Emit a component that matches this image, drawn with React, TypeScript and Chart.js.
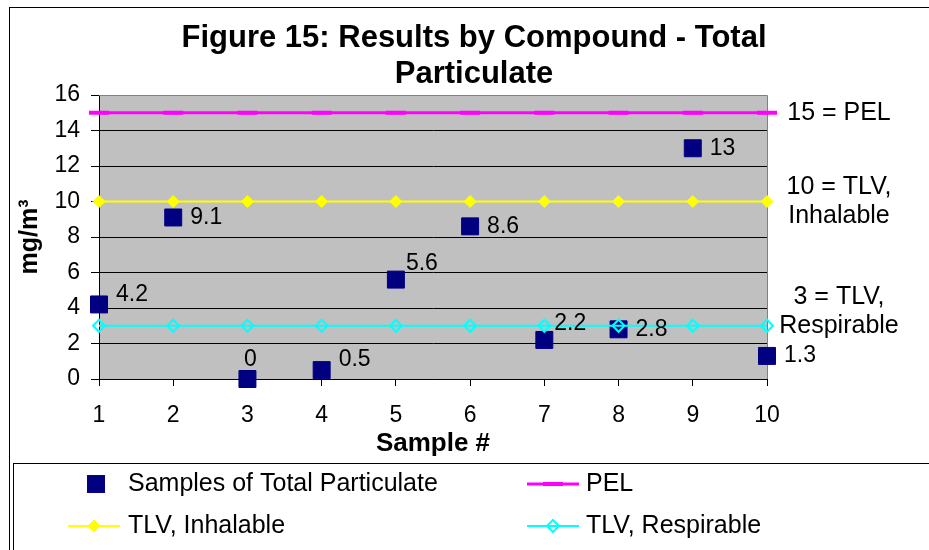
import React, { useEffect, useRef } from 'react';
import { Chart, registerables } from 'chart.js';

Chart.register(...registerables);

// ---------- data ----------
const sampleNumbers = [1, 2, 3, 4, 5, 6, 7, 8, 9, 10];
const sampleValues = [4.2, 9.1, 0, 0.5, 5.6, 8.6, 2.2, 2.8, 13, 1.3];
const pelValue = 15;
const tlvInhalableValue = 10;
const tlvRespirableValue = 3;

const seriesLabels = ['Samples of Total Particulate', 'PEL', 'TLV, Inhalable', 'TLV, Respirable'];
const titleLines = ['Figure 15: Results by Compound - Total', 'Particulate'];
const xTitle = 'Sample #';
const yTitle = 'mg/m³';
const yMin = 0;
const yMax = 16;
const yStep = 2;
const xMin = 1;
const xMax = 10;

const noteLevels = [15, 10, 3];
const noteLines = [['15 = PEL'], ['10 = TLV,', 'Inhalable'], ['3 = TLV,', 'Respirable']];
const noteAnchors = ['middle', 'middle', 'bottom'];

const labelPlacement = ['rightHigh', 'right', 'above', 'rightHigh', 'upperRight', 'right', 'upperRight', 'right', 'right', 'right'];

// ---------- styles ----------
const FONT = '"Liberation Sans", Arial, Helvetica, sans-serif';
const NAVY = '#000080';
const MAGENTA = '#FF00FF';
const YELLOW = '#FFFF00';
const CYAN = '#00FFFF';
const PLOT_BG = '#C0C0C0';

function drawMarker(ctx: CanvasRenderingContext2D, style: string, x: number, y: number, r: number, fill: string, stroke: string, bw: number) {
  ctx.save();
  if (style === 'rect') {
    const s = Math.SQRT1_2 * r;
    ctx.fillStyle = fill;
    ctx.fillRect(x - s - 0.5, y - s - 0.5, 2 * s + 1, 2 * s + 1);
  } else if (style === 'rectRot') {
    ctx.beginPath();
    ctx.moveTo(x - r, y);
    ctx.lineTo(x, y - r);
    ctx.lineTo(x + r, y);
    ctx.lineTo(x, y + r);
    ctx.closePath();
    if (fill && fill !== 'transparent') {
      ctx.fillStyle = fill;
      ctx.fill();
    }
    ctx.strokeStyle = stroke;
    ctx.lineWidth = bw;
    ctx.stroke();
  } else if (style === 'line') {
    ctx.beginPath();
    ctx.moveTo(x - r, y);
    ctx.lineTo(x + r, y);
    ctx.strokeStyle = stroke;
    ctx.lineWidth = bw;
    ctx.stroke();
  }
  ctx.restore();
}

const decorPlugin = {
  id: 'decor',
  beforeDraw(chart: any) {
    const { ctx, chartArea: a } = chart;
    ctx.save();
    ctx.fillStyle = '#ffffff';
    ctx.fillRect(0, 0, chart.width, chart.height);
    ctx.strokeStyle = '#000';
    ctx.lineWidth = 1;
    ctx.strokeRect(9.5, 7.5, chart.width + 20, chart.height + 20);
    ctx.fillStyle = PLOT_BG;
    ctx.fillRect(a.left, a.top, a.right - a.left, a.bottom - a.top);
    ctx.restore();
  },
  beforeDatasetsDraw(chart: any) {
    const { ctx, chartArea: a } = chart;
    ctx.save();
    ctx.strokeStyle = '#808080';
    ctx.lineWidth = 1;
    const top = Math.round(a.top) + 0.5;
    const right = Math.round(a.right) + 0.5;
    ctx.beginPath();
    ctx.moveTo(a.left, top);
    ctx.lineTo(right, top);
    ctx.lineTo(right, a.bottom);
    ctx.stroke();
    ctx.restore();
  },
  afterDatasetsDraw(chart: any) {
    const { ctx } = chart;
    const meta = chart.getDatasetMeta(0);
    ctx.save();
    ctx.font = `23px ${FONT}`;
    ctx.fillStyle = '#000';
    ctx.textBaseline = 'middle';
    meta.data.forEach((pt: any, i: number) => {
      const txt = String(sampleValues[i]);
      const p = labelPlacement[i];
      let x = pt.x + 17;
      let y = pt.y;
      ctx.textAlign = 'left';
      if (p === 'rightHigh') { y = pt.y - 10; }
      else if (p === 'upperRight') { x = pt.x + 10; y = pt.y - 16; }
      else if (p === 'above') { ctx.textAlign = 'center'; x = pt.x + 3; y = pt.y - 19; }
      ctx.fillText(txt, x, y);
    });
    ctx.restore();
  },
  afterDraw(chart: any) {
    const { ctx, chartArea: a } = chart;
    const yScale = chart.scales.y;
    ctx.save();
    // title
    ctx.fillStyle = '#000';
    ctx.font = `bold 31px ${FONT}`;
    ctx.textAlign = 'center';
    ctx.textBaseline = 'middle';
    titleLines.forEach((t, i) => ctx.fillText(t, 474, 38 + i * 36));

    // reference notes at right
    ctx.font = `25px ${FONT}`;
    const lh = 29;
    noteLevels.forEach((v, i) => {
      const lines = noteLines[i];
      const yv = yScale.getPixelForValue(v);
      let y0;
      if (noteAnchors[i] === 'bottom') y0 = yv - (lines.length - 1) * lh;
      else y0 = yv - ((lines.length - 1) * lh) / 2;
      lines.forEach((l, j) => ctx.fillText(l, a.right + 72, y0 + j * lh));
    });

    // legend box
    ctx.strokeStyle = '#000';
    ctx.lineWidth = 1;
    ctx.strokeRect(13.5, 463.5, chart.width + 20, 120);
    ctx.font = `25px ${FONT}`;
    ctx.textAlign = 'left';
    const colMarker = [94, 553];
    const colText = [128, 586];
    const rowY = [484, 526];
    chart.data.datasets.forEach((ds: any, i: number) => {
      const col = i % 2;
      const row = Math.floor(i / 2);
      const cx = colMarker[col];
      const cy = rowY[row];
      if (ds.showLine) {
        ctx.beginPath();
        ctx.moveTo(cx - 26, cy);
        ctx.lineTo(cx + 26, cy);
        ctx.strokeStyle = ds.borderColor;
        ctx.lineWidth = ds.borderWidth;
        ctx.stroke();
        drawMarker(ctx, ds.pointStyle, cx, cy, ds.pointStyle === 'line' ? 10 : ds.pointRadius, ds.pointBackgroundColor, ds.pointBorderColor, ds.pointBorderWidth);
      } else {
        drawMarker(ctx, 'rect', cx + 2, cy, 12, ds.backgroundColor, ds.borderColor, 1);
      }
      ctx.fillStyle = '#000';
      ctx.fillText(ds.label, colText[col], cy);
    });
    ctx.restore();
  },
};

export default function App() {
  const ref = useRef<HTMLCanvasElement | null>(null);

  useEffect(() => {
    document.body.style.margin = '0';
    const canvas = ref.current;
    if (!canvas) return;

    const constLine = (v: number) => sampleNumbers.map((x) => ({ x, y: v }));

    const chart = new Chart(canvas, {
      type: 'scatter',
      data: {
        datasets: [
          {
            label: seriesLabels[0],
            data: sampleNumbers.map((x, i) => ({ x, y: sampleValues[i] })),
            showLine: false,
            pointStyle: 'rect',
            pointRadius: 12,
            backgroundColor: NAVY,
            borderColor: NAVY,
            borderWidth: 1,
            order: 10,
            clip: false,
          } as any,
          {
            label: seriesLabels[1],
            data: constLine(pelValue),
            showLine: true,
            borderColor: MAGENTA,
            borderWidth: 3,
            pointStyle: 'line',
            pointRadius: 10,
            pointBorderWidth: 4,
            pointBorderColor: MAGENTA,
            pointBackgroundColor: MAGENTA,
            clip: false,
          } as any,
          {
            label: seriesLabels[2],
            data: constLine(tlvInhalableValue),
            showLine: true,
            borderColor: YELLOW,
            borderWidth: 2,
            pointStyle: 'rectRot',
            pointRadius: 6,
            pointBorderWidth: 1,
            pointBorderColor: YELLOW,
            pointBackgroundColor: YELLOW,
            clip: false,
          } as any,
          {
            label: seriesLabels[3],
            data: constLine(tlvRespirableValue),
            showLine: true,
            borderColor: CYAN,
            borderWidth: 2,
            pointStyle: 'rectRot',
            pointRadius: 6,
            pointBorderWidth: 2,
            pointBorderColor: CYAN,
            pointBackgroundColor: 'transparent',
            clip: false,
          } as any,
        ],
      },
      options: {
        responsive: false,
        animation: false,
        devicePixelRatio: 1,
        events: [],
        layout: { padding: { top: 95, left: 0, right: 162, bottom: 81 } },
        plugins: {
          legend: { display: false },
          tooltip: { enabled: false },
          title: { display: false },
        },
        scales: {
          x: {
            type: 'linear',
            min: xMin,
            max: xMax,
            ticks: {
              stepSize: 1,
              color: '#000',
              font: { family: FONT, size: 23 },
              padding: 16,
            },
            grid: { drawOnChartArea: false, drawTicks: true, tickLength: 7, color: '#000' },
            border: { color: '#000', width: 1 },
            title: {
              display: true,
              text: xTitle,
              color: '#000',
              font: { family: FONT, size: 26, weight: 'bold' },
              padding: { top: 0, bottom: 10 },
            },
            afterFit: (s: any) => { s.height = 90; },
          } as any,
          y: {
            type: 'linear',
            min: yMin,
            max: yMax,
            ticks: {
              stepSize: yStep,
              color: '#000',
              font: { family: FONT, size: 23 },
              padding: 11,
            },
            grid: {
              color: (c: any) => (c.tick && c.tick.value === yMax ? '#808080' : '#000'),
              tickColor: '#000',
              tickLength: 8,
              drawTicks: true,
            },
            border: { color: '#000', width: 1 },
            title: {
              display: true,
              text: yTitle,
              color: '#000',
              font: { family: FONT, size: 25, weight: 'bold' },
              padding: { top: 15, bottom: 0 },
            },
            afterFit: (s: any) => { s.width = 99; },
          } as any,
        },
      },
      plugins: [decorPlugin],
    });

    return () => chart.destroy();
  }, []);

  return (
    <div>
      <canvas ref={ref} width={929} height={550} style={{ display: 'block', width: '929px', height: '550px' }} />
    </div>
  );
}
